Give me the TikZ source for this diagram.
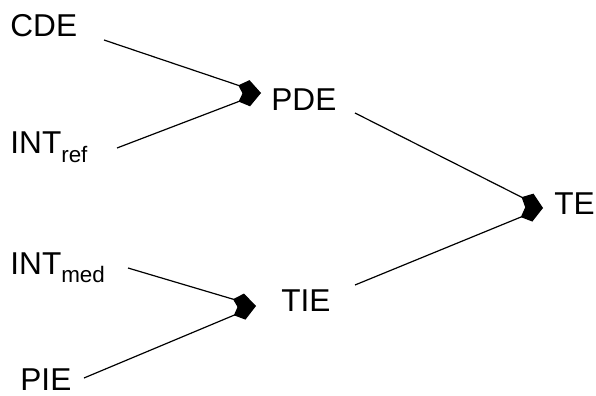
\documentclass[tikz,border=0pt]{standalone}
\usepackage{fontspec}
\setmainfont{Liberation Sans}
\usetikzlibrary{arrows.meta}
\newcommand{\lowsub}[1]{\raisebox{-0.5ex}{\fontsize{11.2}{13}\selectfont #1}}
\begin{document}
\begin{tikzpicture}[x=0.5pt,y=-0.5pt,
  lbl/.style={anchor=base west,inner sep=0pt,font=\fontsize{15.8}{18}\selectfont},
  link/.style={line width=0.6pt,-{Kite[length=12pt,width=8.5pt,inset=4.5pt]}}]
  \useasboundingbox (0,0) rectangle (596,396);
  % effect labels
  \node[lbl] (cde) at (10,36) {CDE};
  \node[lbl] (iref) at (10,154) {INT\lowsub{ref}};
  \node[lbl] (pde) at (271,111) {PDE};
  \node[lbl] (imed) at (10,274) {INT\lowsub{med}};
  \node[lbl] (tie) at (281,311) {TIE};
  \node[lbl] (pie) at (20,390) {PIE};
  \node[lbl] (te) at (554,214) {TE};
  % connector end points
  \coordinate (cde-o) at (104,40);
  \coordinate (iref-o) at (117,148);
  \coordinate (pde-i) at (261,93);
  \coordinate (pde-o) at (355,113);
  \coordinate (imed-o) at (128,268);
  \coordinate (pie-o) at (84,378);
  \coordinate (tie-i) at (256,306);
  \coordinate (tie-o) at (355,285);
  \coordinate (te-i) at (543,208);
  % connectors
  \draw[link] (cde-o) -- (pde-i);
  \draw[link] (iref-o) -- (pde-i);
  \draw[link] (imed-o) -- (tie-i);
  \draw[link] (pie-o) -- (tie-i);
  \draw[link] (pde-o) -- (te-i);
  \draw[link] (tie-o) -- (te-i);
\end{tikzpicture}
\end{document}
